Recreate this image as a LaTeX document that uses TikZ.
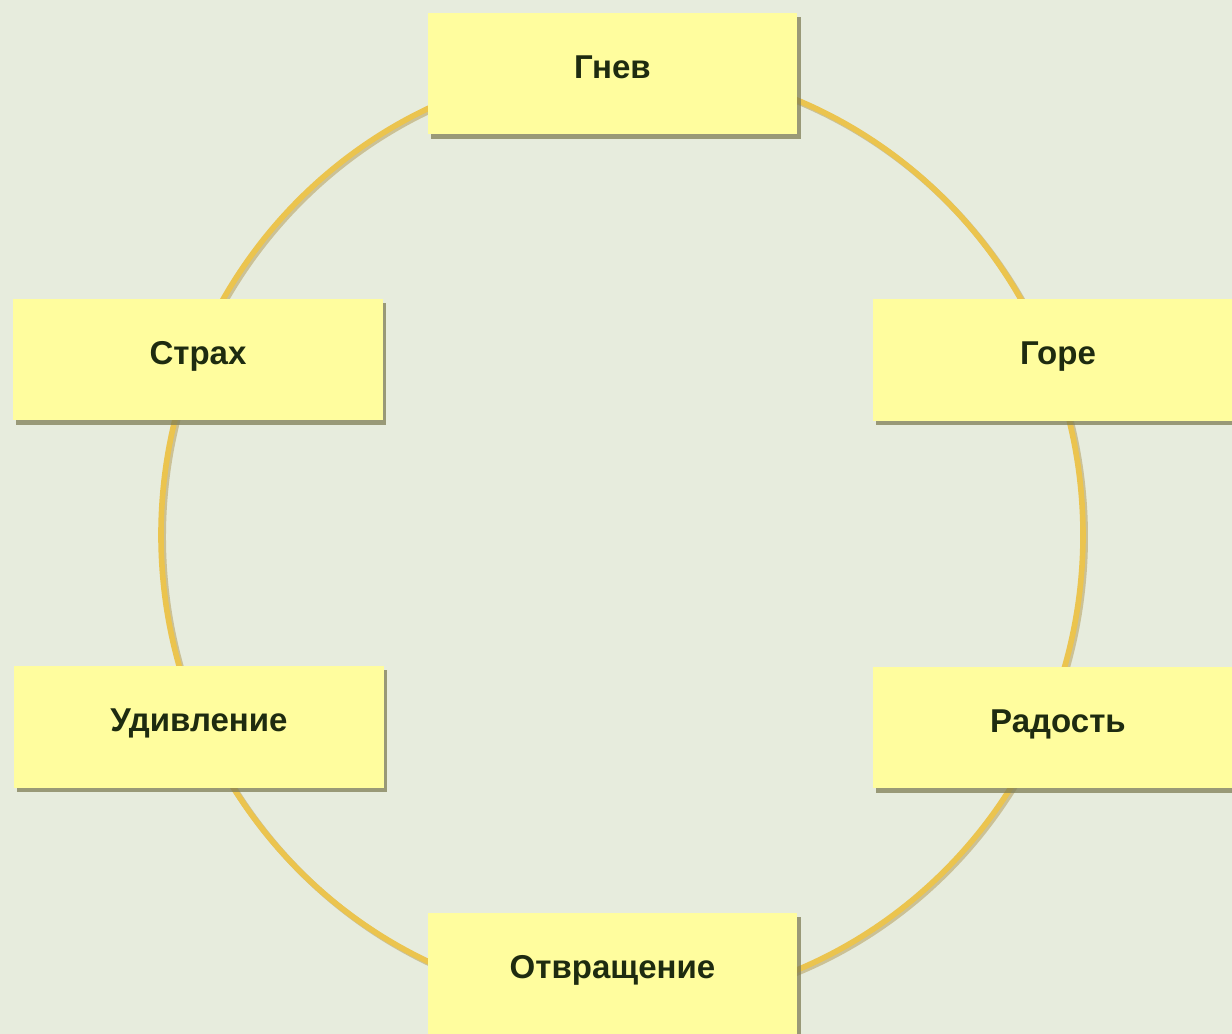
\documentclass[tikz,border=0pt]{standalone}
\usepackage{fontspec}
\setmainfont{Liberation Sans}
\usetikzlibrary{shadows}
\definecolor{bgcol}{HTML}{E7ECDD}
\definecolor{boxcol}{HTML}{FFFD9E}
\definecolor{ringcol}{HTML}{EBC44E}
\definecolor{ringshade}{HTML}{B9A567}
\definecolor{shadecol}{HTML}{7F7E55}
\definecolor{txtcol}{HTML}{1E2B10}
\tikzset{
	emotion/.style={rectangle, fill=boxcol, minimum width=7.4cm, minimum height=2.44cm,
		inner sep=0pt, text=txtcol, font=\fontsize{18.8}{22}\selectfont\bfseries,
		text height=0.75em, text depth=0.2em,
		drop shadow={shadow xshift=1.8pt, shadow yshift=-2.3pt, fill=shadecol, opacity=0.75}}
}

\begin{document}
\begin{tikzpicture}[x=0.02cm, y=-0.02cm]
			%%%%% START %%%%%
			
			\fill[bgcol] (0, 0) rectangle (1232, 1034);
			\useasboundingbox (0, 0) rectangle (1232, 1034);
			
			\draw[line width=3.4pt, color=ringshade, opacity=0.6] (624, 537) ellipse [x radius=461, y radius=470];
			\draw[line width=3.2pt, color=ringcol] (622, 535) ellipse [x radius=461, y radius=470];
			
			\node[emotion] (gnev) at (612.5, 73.5) {Гнев};
			\node[emotion] (strakh) at (198, 359.5) {Страх};
			\node[emotion] (gore) at (1058, 360) {Горе};
			\node[emotion] (udivl) at (199, 727) {Удивление};
			\node[emotion] (radost) at (1058, 727.5) {Радость};
			\node[emotion] (otvr) at (612.5, 974) {Отвращение};
			
			%%%%% END %%%%%
		\end{tikzpicture}
\end{document}
